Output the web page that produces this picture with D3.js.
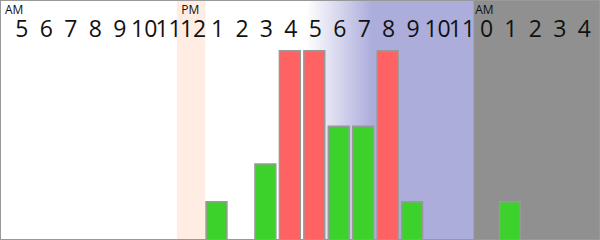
<!DOCTYPE html>
<html><head><meta charset="utf-8">
<script src="https://cdn.jsdelivr.net/npm/d3@7"></script>
<style>html,body{margin:0;padding:0;background:#fff;}svg{display:block;}</style>
</head><body>
<svg id="c" width="600" height="240"></svg>
<script>
const hours = ["5","6","7","8","9","10","11","12","1","2","3","4","5","6","7","8","9","10","11","0","1","2","3","4"];
const values = [0,0,0,0,0,0,0,0,1,0,2,5,5,3,3,5,1,0,0,0,1,0,0,0];
const kinds  = ["","","","","","","","","g","","g","r","r","g","g","r","g","","","","g","","",""];
const periods = [{label:"AM", at:0},{label:"PM", at:7},{label:"AM", at:19}];
const W = 600, H = 240;
const svg = d3.select("#c");
const idx = d3.range(hours.length);
const x = d3.scaleBand().domain(idx).range([9.7, 9.7 + 24*24.45]).padding(0);
const y = d3.scaleLinear().domain([0,5]).range([239.5, 50.75]);
const bw = x.bandwidth();

const defs = svg.append("defs");
const g = defs.append("linearGradient").attr("id","eve").attr("gradientUnits","userSpaceOnUse")
  .attr("x1", x(12)+3).attr("x2", x(14)+20).attr("y1",0).attr("y2",0);
g.append("stop").attr("offset","0").attr("stop-color","#ffffff");
g.append("stop").attr("offset","1").attr("stop-color","#adaddc");

// backgrounds
svg.append("rect").attr("x",0).attr("y",0).attr("width",W).attr("height",H).attr("fill","#fff");
svg.append("rect").attr("x", x(7)-4).attr("y",0).attr("width", x(8)-x(7)+4).attr("height",H).attr("fill","#ffede3");
svg.append("rect").attr("x", x(12)+3).attr("y",0).attr("width", x(19)-1 - (x(12)+3)).attr("height",H).attr("fill","url(#eve)");
svg.append("rect").attr("x", x(19)-1).attr("y",0).attr("width", W-(x(19)-1)).attr("height",H).attr("fill","#909090");

// bars
svg.append("g").selectAll("rect").data(idx.filter(i=>values[i]>0)).join("rect")
  .attr("x", i => x(i)+0.75)
  .attr("y", i => y(values[i]))
  .attr("width", bw-3.55)
  .attr("height", i => y(0)-y(values[i]) + 2)
  .attr("fill", i => kinds[i]==="r" ? "#ff6262" : "#3dd22b")
  .attr("stroke","#999").attr("stroke-width",1.5);

// hour labels
svg.append("g").selectAll("text").data(idx).join("text")
  .attr("x", i => x(i)+bw/2)
  .attr("y", 37)
  .attr("text-anchor","middle")
  .attr("font-family","'Open Sans', sans-serif")
  .attr("font-size", 23)
  .attr("fill","#111")
  .text(i => hours[i]);

// period labels
svg.append("g").selectAll("text").data(periods).join("text")
  .attr("x", d => d.at===0 ? 5 : x(d.at)+ (d.at===7 ? 0.5 : 1))
  .attr("y", 13.5)
  .attr("font-family","'Open Sans', sans-serif")
  .attr("font-size", 12)
  .attr("fill","#111")
  .text(d => d.label);

// border
svg.append("rect").attr("x",0.5).attr("y",0.5).attr("width",W-1).attr("height",H-1)
  .attr("fill","none").attr("stroke","#999").attr("stroke-width",1);
</script>
</body></html>
